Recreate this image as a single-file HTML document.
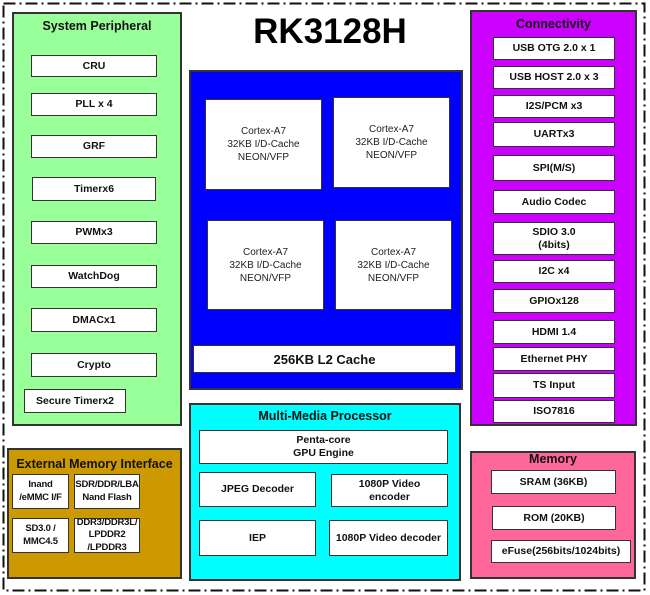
<!DOCTYPE html>
<html><head><meta charset="utf-8"><style>
body{margin:0;width:650px;height:595px;background:#fff;position:relative;overflow:hidden;font-family:"Liberation Sans",Arial,sans-serif}
.c{position:absolute;border:2px solid #333;box-sizing:border-box}
.b{position:absolute;background:#fff;border:1.5px solid #333;box-sizing:border-box;display:flex;align-items:center;justify-content:center;text-align:center;font-weight:bold;font-size:10.5px;line-height:13px;color:#111}
.n{font-weight:normal;font-size:10px;color:#222}
.s{font-size:9.5px;line-height:12.5px;letter-spacing:-0.2px}
.t{position:absolute;font-weight:bold;font-size:12.5px;text-align:center;color:#111}
</style></head><body>
<svg style="position:absolute;left:0;top:0" width="650" height="595"><rect x="3.5" y="3.5" width="641" height="587" fill="none" stroke="#111" stroke-width="2" stroke-dasharray="12,4,2,4"/></svg>

<div class="c" style="left:12px;top:12px;width:170px;height:414px;background:#99ff99"></div>
<div class="t" style="left:12px;top:19px;width:170px">System Peripheral</div>
<div class="b" style="left:31px;top:55px;width:126px;height:22px">CRU</div>
<div class="b" style="left:31px;top:93px;width:126px;height:23px">PLL x 4</div>
<div class="b" style="left:31px;top:135px;width:126px;height:23px">GRF</div>
<div class="b" style="left:32px;top:177px;width:124px;height:24px">Timerx6</div>
<div class="b" style="left:31px;top:221px;width:126px;height:23px">PWMx3</div>
<div class="b" style="left:31px;top:265px;width:126px;height:23px">WatchDog</div>
<div class="b" style="left:31px;top:308px;width:126px;height:24px">DMACx1</div>
<div class="b" style="left:31px;top:353px;width:126px;height:24px">Crypto</div>
<div class="b" style="left:24px;top:389px;width:102px;height:24px">Secure Timerx2</div>

<div style="position:absolute;left:189px;top:12px;width:282px;text-align:center;font-weight:bold;font-size:35px;color:#000">RK3128H</div>

<div class="c" style="left:189px;top:70px;width:274px;height:320px;background:#0000ff"></div>
<div class="b n" style="left:205px;top:99px;width:117px;height:91px">Cortex-A7<br>32KB I/D-Cache<br>NEON/VFP</div>
<div class="b n" style="left:333px;top:97px;width:117px;height:91px">Cortex-A7<br>32KB I/D-Cache<br>NEON/VFP</div>
<div class="b n" style="left:207px;top:220px;width:117px;height:90px">Cortex-A7<br>32KB I/D-Cache<br>NEON/VFP</div>
<div class="b n" style="left:335px;top:220px;width:117px;height:90px">Cortex-A7<br>32KB I/D-Cache<br>NEON/VFP</div>
<div class="b" style="left:193px;top:345px;width:263px;height:28px;font-size:13px">256KB L2 Cache</div>

<div class="c" style="left:470px;top:10px;width:167px;height:416px;background:#cc00ff"></div>
<div class="t" style="left:470px;top:17px;width:167px">Connectivity</div>
<div class="b" style="left:493px;top:37px;width:122px;height:23px">USB OTG 2.0 x 1</div>
<div class="b" style="left:493px;top:66px;width:122px;height:23px">USB HOST 2.0 x 3</div>
<div class="b" style="left:493px;top:95px;width:122px;height:23px">I2S/PCM x3</div>
<div class="b" style="left:493px;top:122px;width:122px;height:25px">UARTx3</div>
<div class="b" style="left:493px;top:155px;width:122px;height:26px">SPI(M/S)</div>
<div class="b" style="left:493px;top:190px;width:122px;height:24px">Audio Codec</div>
<div class="b" style="left:493px;top:222px;width:122px;height:33px">SDIO 3.0<br>(4bits)</div>
<div class="b" style="left:493px;top:260px;width:122px;height:23px">I2C x4</div>
<div class="b" style="left:493px;top:289px;width:122px;height:24px">GPIOx128</div>
<div class="b" style="left:493px;top:320px;width:122px;height:24px">HDMI 1.4</div>
<div class="b" style="left:493px;top:347px;width:122px;height:24px">Ethernet PHY</div>
<div class="b" style="left:493px;top:373px;width:122px;height:25px">TS Input</div>
<div class="b" style="left:493px;top:400px;width:122px;height:23px">ISO7816</div>

<div class="c" style="left:189px;top:403px;width:272px;height:178px;background:#00ffff"></div>
<div class="t" style="left:189px;top:409px;width:272px">Multi-Media Processor</div>
<div class="b" style="left:199px;top:430px;width:249px;height:34px">Penta-core<br>GPU Engine</div>
<div class="b" style="left:199px;top:472px;width:117px;height:35px">JPEG Decoder</div>
<div class="b" style="left:331px;top:474px;width:117px;height:33px">1080P Video<br>encoder</div>
<div class="b" style="left:199px;top:520px;width:117px;height:36px">IEP</div>
<div class="b" style="left:329px;top:520px;width:119px;height:36px">1080P Video decoder</div>

<div class="c" style="left:7px;top:448px;width:175px;height:131px;background:#cc9900"></div>
<div class="t" style="left:7px;top:457px;width:175px">External Memory Interface</div>
<div class="b s" style="left:12px;top:474px;width:57px;height:35px">Inand<br>/eMMC I/F</div>
<div class="b s" style="left:74px;top:474px;width:66px;height:35px">SDR/DDR/LBA<br>Nand Flash</div>
<div class="b s" style="left:12px;top:518px;width:57px;height:35px">SD3.0 /<br>MMC4.5</div>
<div class="b s" style="left:74px;top:518px;width:66px;height:35px">DDR3/DDR3L/<br>LPDDR2<br>/LPDDR3</div>

<div class="c" style="left:470px;top:451px;width:166px;height:128px;background:#ff6699"></div>
<div class="t" style="left:470px;top:452px;width:166px">Memory</div>
<div class="b" style="left:491px;top:470px;width:125px;height:24px">SRAM (36KB)</div>
<div class="b" style="left:492px;top:506px;width:124px;height:24px">ROM (20KB)</div>
<div class="b" style="left:491px;top:540px;width:140px;height:23px">eFuse(256bits/1024bits)</div>
</body></html>
